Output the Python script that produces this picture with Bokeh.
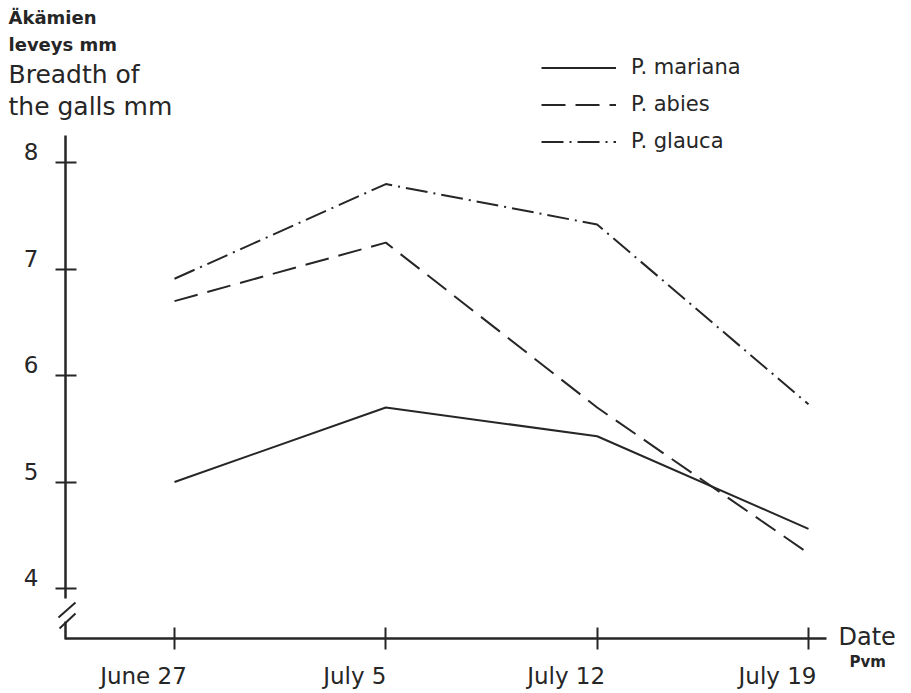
from bokeh.plotting import figure
from bokeh.models import (FixedTicker, Range1d, Label, Legend, LegendItem, Arrow)
from bokeh.core.properties import value
from bokeh.embed import file_html
from bokeh.resources import INLINE

# ---- data ----
dates = ["June 27", "July 5", "July 12", "July 19"]
mariana = [5.00, 5.70, 5.43, 4.56]
abies = [6.70, 7.25, 5.70, 4.33]
glauca = [6.91, 7.80, 7.42, 5.73]
y_ticks = [4, 5, 6, 7, 8]
series_names = ["P. mariana", "P. abies", "P. glauca"]

xs = list(range(len(dates)))
INK = "#262626"
FONT = "DejaVu Sans"

W, H = 911, 693
# pixel scales of the drawing
X0_PX, X_PER = 174.0, 211.33          # px of first date, px per date step
Y8_PX, Y_PER = 162.3, 106.4           # px of value 8, px per unit

def dx(px):
    return (px - X0_PX) / X_PER

def dy(py):
    return 8 - (py - Y8_PX) / Y_PER

p = figure(width=W, height=H, output_backend="svg", toolbar_location=None,
           x_range=Range1d(dx(0), dx(W)), y_range=Range1d(dy(H), dy(0)),
           min_border=0, min_border_left=0, min_border_right=0,
           min_border_top=0, min_border_bottom=0)
p.outline_line_color = None
p.grid.visible = False
p.background_fill_color = "white"
p.border_fill_color = "white"

X_AXIS_Y = dy(638)
Y_AXIS_X = dx(65)

# axes
xa = p.xaxis[0]
xa.fixed_location = X_AXIS_Y
xa.ticker = FixedTicker(ticks=xs)
xa.bounds = (dx(65), dx(826))
xa.axis_line_width = 2.5
xa.axis_line_color = INK
xa.major_tick_line_color = INK
xa.major_tick_line_width = 2
xa.major_tick_in = 11
xa.major_tick_out = 11
xa.minor_tick_line_color = None
xa.major_label_text_color = None

ya = p.yaxis[0]
ya.fixed_location = Y_AXIS_X
ya.ticker = FixedTicker(ticks=y_ticks)
ya.bounds = (dy(598), dy(135))
ya.axis_line_width = 2.5
ya.axis_line_color = INK
ya.major_tick_line_color = INK
ya.major_tick_line_width = 2
ya.major_tick_in = 11
ya.major_tick_out = 10
ya.minor_tick_line_color = None
ya.major_label_text_color = None

# tick labels (offset like the hand lettering)
p.text(x=xs, y=[X_AXIS_Y] * len(xs), text=dates, text_align="center",
       text_baseline="middle", x_offset=-31, y_offset=37,
       text_font=value(FONT), text_font_size="23px", text_color=INK)
p.text(x=[Y_AXIS_X] * len(y_ticks), y=y_ticks, text=[str(t) for t in y_ticks],
       text_align="right", text_baseline="middle", x_offset=-27, y_offset=-11,
       text_font=value(FONT), text_font_size="23px", text_color=INK)

# axis break
for (x1, y1, x2, y2) in [(65, 621, 65, 639), (58, 617, 75, 602), (59, 628, 75, 613)]:
    p.add_layout(Arrow(end=None, x_start=dx(x1), y_start=dy(y1), x_end=dx(x2), y_end=dy(y2),
                       line_color=INK, line_width=2.5 if x1 == x2 else 2))

# series
r1 = p.line(xs, mariana, line_color=INK, line_width=2)
r2 = p.line(xs, abies, line_color=INK, line_width=2, line_dash="24 10")
r3 = p.line(xs, glauca, line_color=INK, line_width=2, line_dash="22 6 2 6")

legend = Legend(items=[LegendItem(label=n, renderers=[r]) for n, r in zip(series_names, [r1, r2, r3])],
                location=(541, 540), glyph_width=75, glyph_height=21, label_height=21,
                label_standoff=15, spacing=13, padding=0, margin=0,
                border_line_color=None, background_fill_alpha=0,
                label_text_font=FONT, label_text_font_size="21px", label_text_color=INK)
p.add_layout(legend)

# titles
def lab(text, px, py_mid, size, bold=False):
    p.add_layout(Label(x=dx(px), y=dy(py_mid), text=text, text_font=FONT,
                       text_font_size=size, text_color=INK,
                       text_font_style="bold" if bold else "normal",
                       text_baseline="middle", text_align="left"))

lab("Äkämien", 8, 17, "18px", True)
lab("leveys  mm", 8, 44, "18px", True)
lab("Breadth of", 8, 74, "25px")
lab("the galls mm", 8, 106, "25px")
lab("Date", 838, 636, "24px")
lab("Pvm", 849, 661, "15px", True)

open("out.html", "w").write(file_html(p, INLINE))
